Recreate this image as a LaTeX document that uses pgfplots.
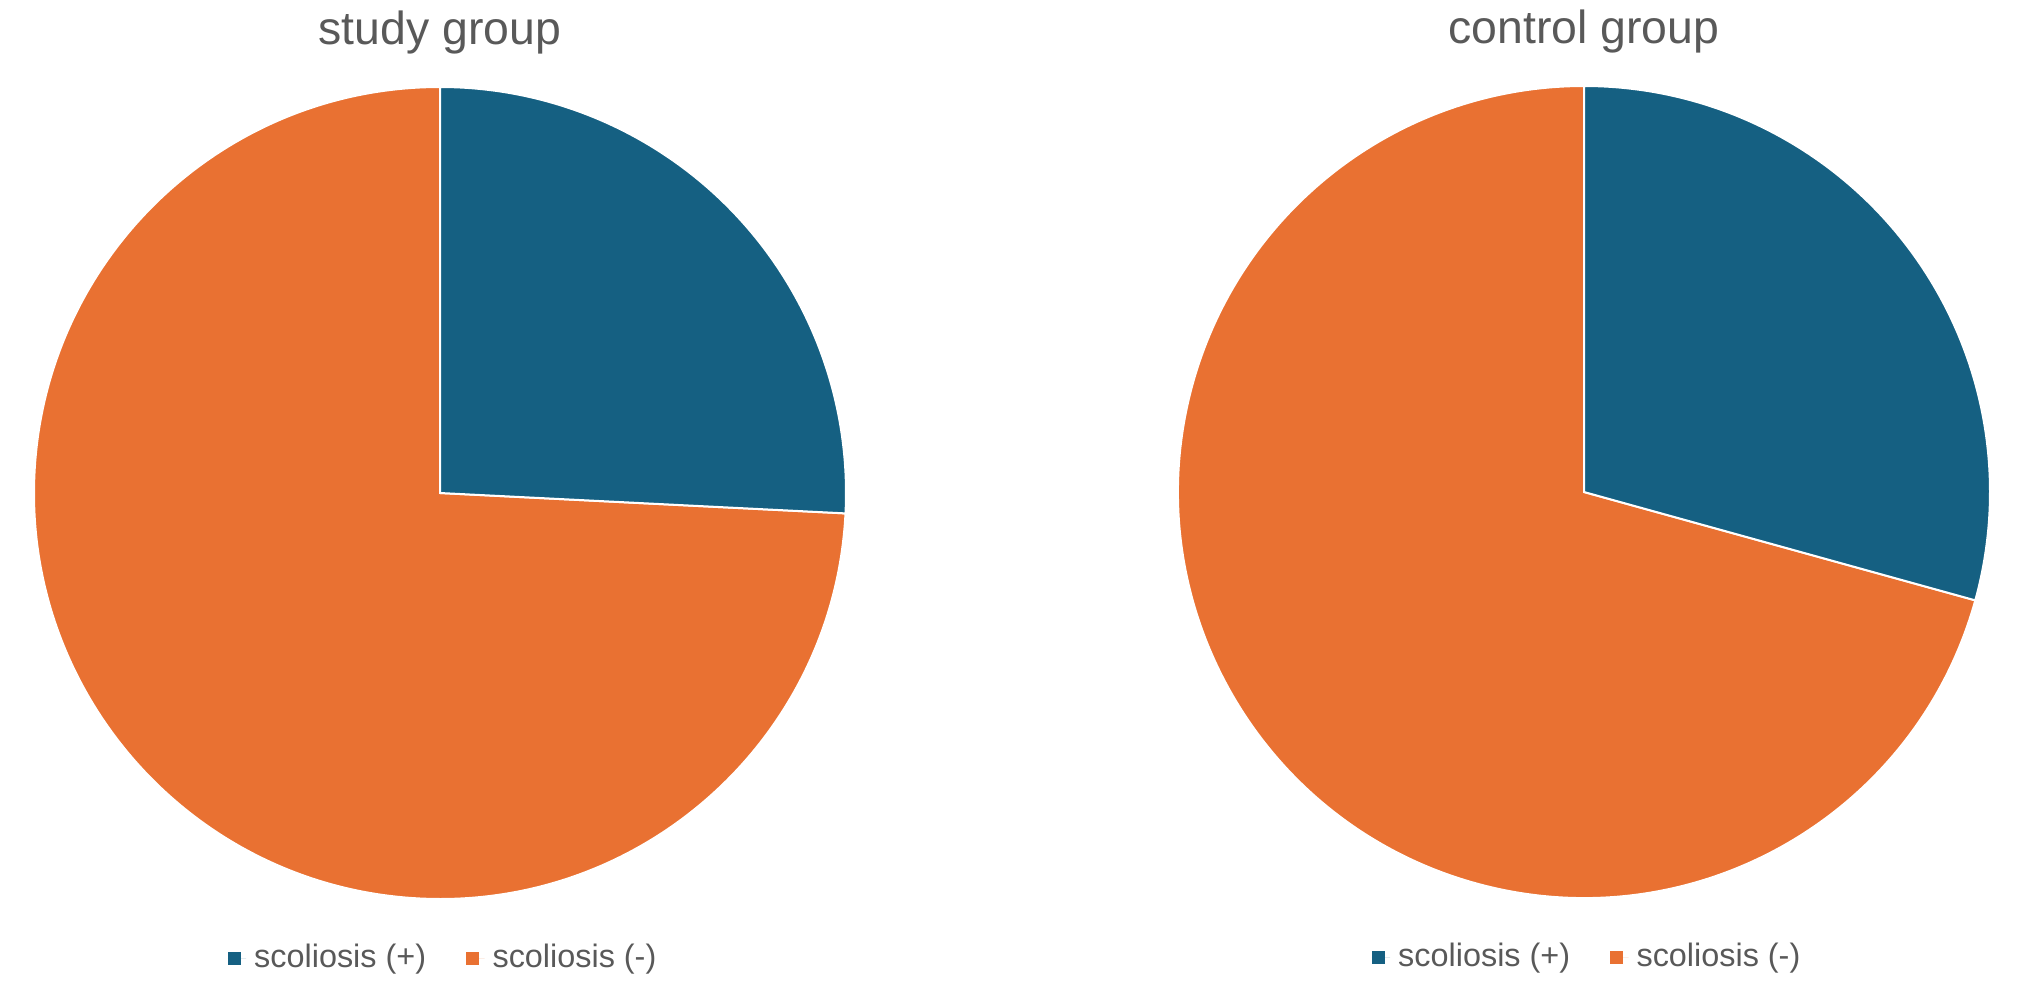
\documentclass[border=0pt]{standalone}
\usepackage{fontspec}
\setmainfont{Liberation Sans}
\usepackage{pgfplots}
\usepackage{pgfplotstable}
\pgfplotsset{compat=1.18}
\definecolor{pblue}{HTML}{156082}
\definecolor{porange}{HTML}{E97132}
\definecolor{txt}{HTML}{595959}

% share (%) of each group
\pgfplotstableread{
group pos neg
study 25.8 74.2
control 29.3 70.7
}\piedata

\newcommand\getangle[2]{% row, macro name
  \pgfplotstablegetelem{#1}{pos}\of\piedata
  \pgfmathsetmacro\tmpang{90-3.6*\pgfplotsretval}%
  \expandafter\xdef\csname #2\endcsname{\tmpang}%
}

\pgfplotsset{
  pie/.style={
    hide axis, x=101.5pt, y=101.5pt, xmin=-1, xmax=1, ymin=-1, ymax=1,
    anchor=center, clip=false,
    title style={at={(0.5,1)}, anchor=center, yshift=7.5pt,
      font=\fontsize{11.6pt}{13pt}\selectfont, text=txt},
    legend columns=2,
    legend style={at={(0.5075,-0.073)}, anchor=center, draw=none, fill=none,
      font=\fontsize{8.1pt}{9pt}\selectfont, text=txt,
      /tikz/every even column/.append style={column sep=8pt}},
    legend image code/.code={\fill[##1, draw=none] (0pt,-1.625pt) rectangle (3.25pt,1.625pt); \path (0pt,0pt) -- (4.6pt,0pt);},
  }
}

\begin{document}%
\begin{tikzpicture}
\getangle{0}{angA}
\getangle{1}{angB}

\begin{axis}[pie, at={(110pt,-123.25pt)}, title={study group}]
  \addlegendimage{draw=none, fill=pblue}
  \addlegendentry{scoliosis (+)}
  \addlegendimage{draw=none, fill=porange}
  \addlegendentry{scoliosis (-)}
  \filldraw[fill=porange, draw=white, line width=0.5pt] (axis cs:0,0) -- (axis cs:{cos(\angA)},{sin(\angA)}) arc[start angle=\angA, end angle=-270, radius=101.5pt] -- cycle;
  \filldraw[fill=pblue, draw=white, line width=0.5pt] (axis cs:0,0) -- (axis cs:0,1) arc[start angle=90, end angle=\angA, radius=101.5pt] -- cycle;
\end{axis}

\begin{axis}[pie, at={(396pt,-123pt)}, title={control group}]
  \addlegendimage{draw=none, fill=pblue}
  \addlegendentry{scoliosis (+)}
  \addlegendimage{draw=none, fill=porange}
  \addlegendentry{scoliosis (-)}
  \filldraw[fill=porange, draw=white, line width=0.5pt] (axis cs:0,0) -- (axis cs:{cos(\angB)},{sin(\angB)}) arc[start angle=\angB, end angle=-270, radius=101.5pt] -- cycle;
  \filldraw[fill=pblue, draw=white, line width=0.5pt] (axis cs:0,0) -- (axis cs:0,1) arc[start angle=90, end angle=\angB, radius=101.5pt] -- cycle;
\end{axis}

\pgfresetboundingbox
\path[use as bounding box] (0,0) rectangle (508.5pt,-251.25pt);
\end{tikzpicture}%
\end{document}
